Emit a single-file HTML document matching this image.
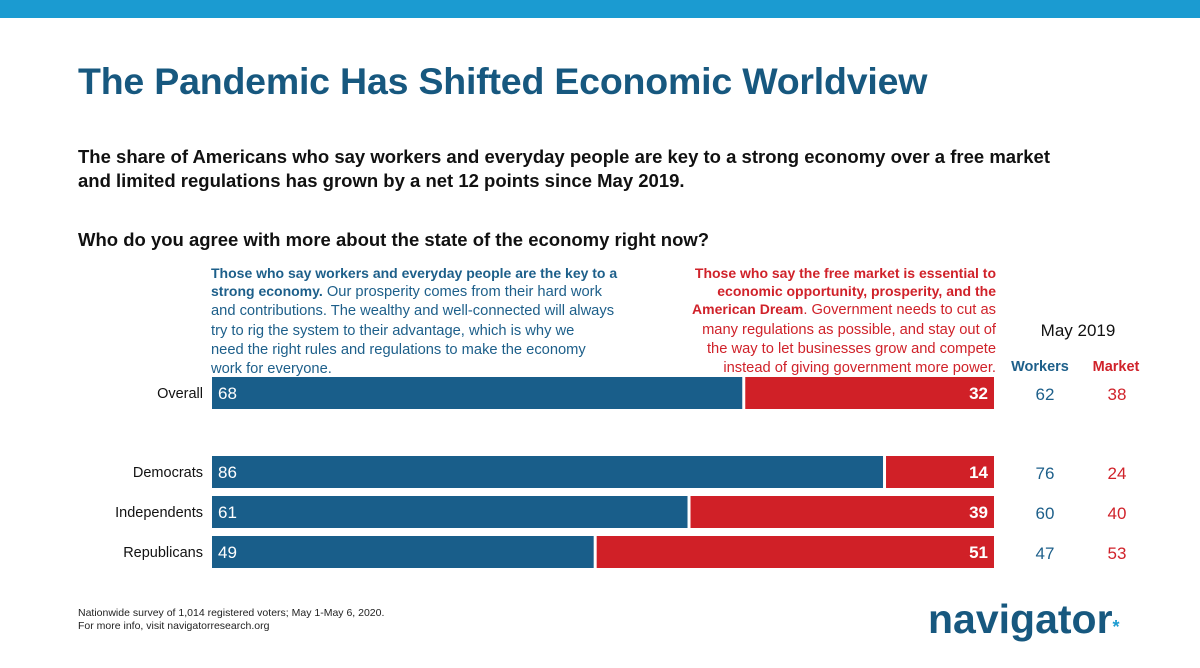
<!DOCTYPE html>
<html><head><meta charset="utf-8"><style>
body{margin:0;width:1200px;height:668px;background:#fff;overflow:hidden;font-family:"Liberation Sans",sans-serif;position:relative}
.abs{position:absolute;margin:0}
.desc{white-space:nowrap;font-size:14px;line-height:18.2px}
.desc span{font-size:14.7px;line-height:18.2px;vertical-align:baseline}
</style></head><body>
<div class="abs" style="left:0;top:0;width:1200px;height:18px;background:#1b9bd1"></div>
<h1 class="abs" style="left:78px;top:60px;font-size:37.5px;font-weight:bold;color:#17587f;letter-spacing:-0.2px">The Pandemic Has Shifted Economic Worldview</h1>
<p class="abs" style="left:78px;top:145px;font-size:18.5px;font-weight:bold;line-height:24px;color:#111;width:1005px">The share of Americans who say workers and everyday people are key to a strong economy over a free market and limited regulations has grown by a net 12 points since May 2019.</p>
<p class="abs" style="left:78px;top:229px;font-size:18.5px;font-weight:bold;color:#111">Who do you agree with more about the state of the economy right now?</p>
<p class="abs desc" style="left:211px;top:264px;color:#1d5f8a"><b>Those who say workers and everyday people are the key to a</b><br><b>strong economy.</b><span> Our prosperity comes from their hard work<br>and contributions. The wealthy and well-connected will always<br>try to rig the system to their advantage, which is why we<br>need the right rules and regulations to make the economy<br>work for everyone.</span></p>
<p class="abs desc" style="right:204px;top:264px;text-align:right;color:#d0222a"><b>Those who say the free market is essential to</b><br><b>economic opportunity, prosperity, and the</b><br><b>American Dream</b><span>. Government needs to cut as<br>many regulations as possible, and stay out of<br>the way to let businesses grow and compete<br>instead of giving government more power.</span></p>
<svg class="abs" style="left:0;top:0" width="1200" height="668">
<text x="1078" y="336" text-anchor="middle" font-size="17" fill="#111">May 2019</text>
<text x="1040" y="371" text-anchor="middle" font-size="14.5" font-weight="bold" fill="#1d5f8a">Workers</text>
<text x="1116" y="371" text-anchor="middle" font-size="14.5" font-weight="bold" fill="#d0222a">Market</text>
<g id="bars"></g>
</svg>
<p class="abs" style="left:78px;top:607px;font-size:10.5px;line-height:13px;color:#222">Nationwide survey of 1,014 registered voters; May 1-May 6, 2020.<br>For more info, visit navigatorresearch.org</p>
<div class="abs" style="left:928px;top:596px;font-size:41px;font-weight:bold;color:#17587f;letter-spacing:0px">navigator<span style="color:#1b9bd1;font-size:18px">*</span></div>
<script>
const categories=["Overall","Democrats","Independents","Republicans"];
const workers=[68,86,61,49];
const market=[32,14,39,51];
const workers2019=[62,76,60,47];
const market2019=[38,24,40,53];
const rowY=[377,456,496,536];
const x0=212,W=782,H=32;
const xs=v=>x0+v/100*W;
const g=document.getElementById('bars');
const NS='http://www.w3.org/2000/svg';
function mk(t,a){const e=document.createElementNS(NS,t);for(const k in a)e.setAttribute(k,a[k]);g.appendChild(e);return e;}
categories.forEach((c,i)=>{
 const y=rowY[i];
 const xb=xs(workers[i]);
 const l=mk('text',{x:203,y:y+21,'text-anchor':'end','font-size':14.5,fill:'#111'});l.textContent=c;
 
 
 const b=mk('rect',{x:x0,y:y,width:xb-x0-1.5,height:H,fill:'#195e8a'});
 
 
 const r=mk('rect',{x:xb+1.5,y:y,width:x0+W-xb-1.5,height:H,fill:'#d02027'});
 
 
 const t1=mk('text',{x:x0+6,y:y+22,'font-size':17,fill:'#fff'});t1.textContent=workers[i];
 
 
 const t2=mk('text',{x:x0+W-6,y:y+22,'text-anchor':'end','font-size':17,'font-weight':'bold',fill:'#fff'});t2.textContent=market[i];
 
 
 const t3=mk('text',{x:1045,y:y+23,'text-anchor':'middle','font-size':17,fill:'#1d5f8a'});t3.textContent=workers2019[i];
 
 
 const t4=mk('text',{x:1117,y:y+23,'text-anchor':'middle','font-size':17,fill:'#d0222a'});t4.textContent=market2019[i];
 
 
});
</script>
</body></html>
